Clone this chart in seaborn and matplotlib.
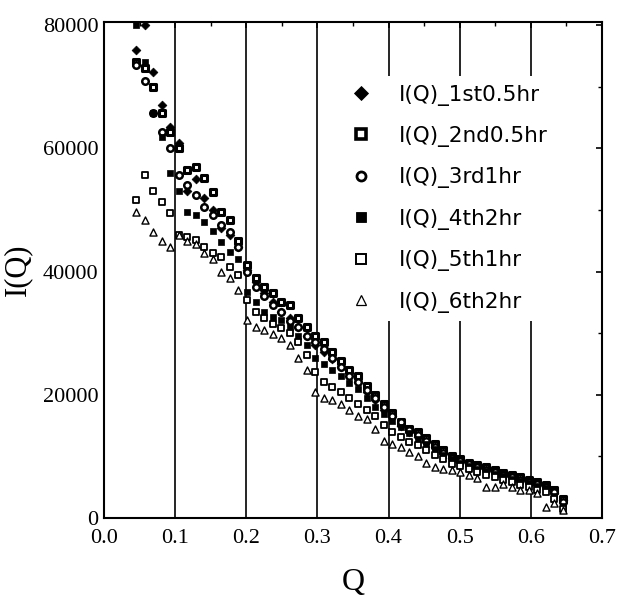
import matplotlib
matplotlib.use('Agg')
import matplotlib.pyplot as plt
import seaborn as sns
import pandas as pd
from matplotlib.lines import Line2D
from matplotlib.ticker import MultipleLocator

# ---- data ----
Q = [0.045, 0.057, 0.069, 0.081, 0.093, 0.105, 0.117, 0.129, 0.141, 0.153,
     0.165, 0.177, 0.189, 0.201, 0.213, 0.225, 0.237, 0.249, 0.261, 0.273,
     0.285, 0.297, 0.309, 0.321, 0.333, 0.345, 0.357, 0.369, 0.381, 0.393,
     0.405, 0.417, 0.429, 0.441, 0.453, 0.465, 0.477, 0.489, 0.501, 0.513,
     0.525, 0.537, 0.549, 0.561, 0.573, 0.585, 0.597, 0.609, 0.621, 0.633,
     0.645]

I_1st = [76000, 80000, 72400, 67000, 63500, 60900, 53000, 55000, 52000, 50000,
         47000, 46000, 44000, 40300, 38300, 36500, 35000, 33500, 32500, 31000,
         29500, 28000, 27000, 25800, 24500, 23500, 22000, 20500, 19200, 17500,
         16500, 15000, 14000, 13200, 12400, 11500, 10600, 9800, 9300, 8800,
         8300, 7900, 7500, 7100, 6700, 6300, 5900, 5500, 5000, 4000, 2900]
I_2nd = [74000, 73000, 70000, 65700, 62700, 60000, 56500, 57000, 55200, 52900,
         49700, 48400, 45000, 41000, 39000, 37500, 36500, 35000, 34500, 32500,
         31000, 29500, 28500, 27000, 25500, 24000, 23000, 21500, 20000, 18500,
         17000, 15500, 14500, 14000, 13000, 12000, 11000, 10000, 9500, 9000,
         8600, 8200, 7800, 7300, 7000, 6600, 6200, 5800, 5400, 4500, 3000]
I_3rd = [73500, 71000, 65700, 62700, 60000, 55700, 54000, 52500, 50500, 49200,
         47600, 46400, 44000, 40000, 37500, 36000, 34500, 33500, 32000, 31000,
         29500, 28500, 27500, 26000, 24500, 23000, 22000, 20800, 19500, 18000,
         16500, 15500, 14300, 13500, 12500, 11500, 10500, 9700, 9200, 8700,
         8200, 7800, 7400, 7000, 6600, 6200, 5900, 5500, 5100, 4200, 2600]
I_4th = [80000, 74000, 65700, 61900, 56000, 53000, 49700, 49200, 48000, 46500,
         44800, 43200, 42000, 36700, 35000, 33500, 32600, 32100, 31000, 29500,
         28000, 26000, 25000, 24000, 23000, 21900, 21000, 19500, 18000, 16800,
         15800, 14800, 13800, 12800, 12000, 11200, 10300, 9500, 9000, 8500,
         8000, 7600, 7200, 6800, 6400, 6000, 5600, 5200, 4800, 3500, 2000]
I_5th = [51600, 55700, 53000, 51300, 49500, 46000, 45600, 45100, 44000, 43000,
         42400, 40700, 39500, 35400, 33500, 32500, 31500, 30800, 30000, 28500,
         26500, 23700, 22000, 21300, 20500, 19500, 18500, 17500, 16500, 15100,
         14000, 13200, 12400, 11800, 11000, 10200, 9500, 8800, 8500, 8000,
         7500, 7000, 6600, 6200, 5800, 5400, 5000, 4600, 4200, 3000, 1500]
I_6th = [49700, 48400, 46400, 45000, 44000, 46000, 45000, 44500, 43000, 42000,
         40000, 39000, 37000, 32100, 31000, 30500, 29800, 29200, 28000, 26000,
         24000, 20500, 19500, 19200, 18500, 17500, 16500, 16000, 14500, 12500,
         12000, 11500, 10700, 10000, 9000, 8300, 8000, 7800, 7500, 7000,
         6500, 5000, 5000, 5500, 5000, 4500, 4500, 4000, 1800, 2500, 1300]

series_labels = ["I(Q)_1st0.5hr", "I(Q)_2nd0.5hr", "I(Q)_3rd1hr",
                 "I(Q)_4th2hr", "I(Q)_5th1hr", "I(Q)_6th2hr"]
x_ticks = [0.0, 0.1, 0.2, 0.3, 0.4, 0.5, 0.6, 0.7]
x_ticklabels = ["0.0", "0.1", "0.2", "0.3", "0.4", "0.5", "0.6", "0.7"]
y_ticks = [0, 20000, 40000, 60000, 80000]
y_ticklabels = ["0", "20000", "40000", "60000", "80000"]

all_I = [I_1st, I_2nd, I_3rd, I_4th, I_5th, I_6th]
df = pd.concat([pd.DataFrame({"Q": Q, "I": vals, "run": lab})
                for lab, vals in zip(series_labels, all_I)], ignore_index=True)

# marker styles
styles = {
    "I(Q)_1st0.5hr": dict(marker="D", face="black", s=20, lw=0.5, ms=7.5, mew=0.6),
    "I(Q)_2nd0.5hr": dict(marker="s", face="white", s=24, lw=2.2, ms=7.0, mew=2.6),
    "I(Q)_3rd1hr":   dict(marker="o", face="white", s=22, lw=1.8, ms=6.5, mew=2.0),
    "I(Q)_4th2hr":   dict(marker="s", face="black", s=24, lw=0.5, ms=7.0, mew=0.6),
    "I(Q)_5th1hr":   dict(marker="s", face="white", s=24, lw=1.3, ms=6.5, mew=1.4),
    "I(Q)_6th2hr":   dict(marker="^", face="white", s=26, lw=1.0, ms=7.0, mew=0.9),
}

sns.set_style("white")
plt.rcParams['font.family'] = ['Liberation Serif', 'DejaVu Serif']
plt.rcParams['text.color'] = 'black'
plt.rcParams['axes.labelcolor'] = 'black'
plt.rcParams['xtick.color'] = 'black'
plt.rcParams['ytick.color'] = 'black'

fig = plt.figure(figsize=(6.19, 6.03), dpi=100)
ax = fig.add_axes([0.168, 0.141, 0.8045, 0.8225])

for lab in series_labels:
    st = styles[lab]
    sns.scatterplot(data=df[df["run"] == lab], x="Q", y="I", ax=ax,
                    marker=st["marker"], color=st["face"], edgecolor="black",
                    linewidth=st["lw"], s=st["s"], zorder=3, legend=False)

ax.set_xlim(0, 0.7)
ax.set_ylim(0, 80500)
ax.set_xticks(x_ticks)
ax.set_xticklabels(x_ticklabels)
ax.set_yticks(y_ticks)
ax.set_yticklabels(y_ticklabels)
ax.xaxis.set_minor_locator(MultipleLocator(0.05))
ax.yaxis.set_minor_locator(MultipleLocator(10000))

ax.grid(axis="x", color="black", linewidth=1.2, zorder=1)
ax.grid(axis="y", visible=False)
ax.set_axisbelow(True)

for sp in ax.spines.values():
    sp.set_color("black")
    sp.set_linewidth(1.5)

ax.tick_params(axis="both", which="major", labelsize=16, colors="black",
               direction="in", length=4, width=1.2, top=True, right=True)
ax.tick_params(axis="y", which="major", pad=4)
ax.tick_params(axis="x", which="major", pad=8)
ax.tick_params(axis="both", which="minor", direction="in", length=3,
               width=1.0, top=True, right=True)

ax.set_xlabel("Q", fontsize=23, labelpad=14, color="black")
ax.set_ylabel("I(Q)", fontsize=22, labelpad=8, color="black")

handles = []
for lab in series_labels:
    st = styles[lab]
    handles.append(Line2D([], [], ls="", marker=st["marker"],
                          markerfacecolor=st["face"], markeredgecolor="black",
                          markeredgewidth=st["mew"], markersize=st["ms"]))
leg = ax.legend(handles, series_labels, loc="upper left",
                bbox_to_anchor=(0.456, 0.913), frameon=True, framealpha=1,
                facecolor="white", edgecolor="none", fancybox=False,
                handlelength=1.0, handletextpad=1.25, labelspacing=0.95,
                borderpad=0.4, labelcolor="black",
                prop={"family": ["DejaVu Sans"], "size": 15.5})
leg.set_zorder(5)

fig.savefig("out.png", dpi=100)
